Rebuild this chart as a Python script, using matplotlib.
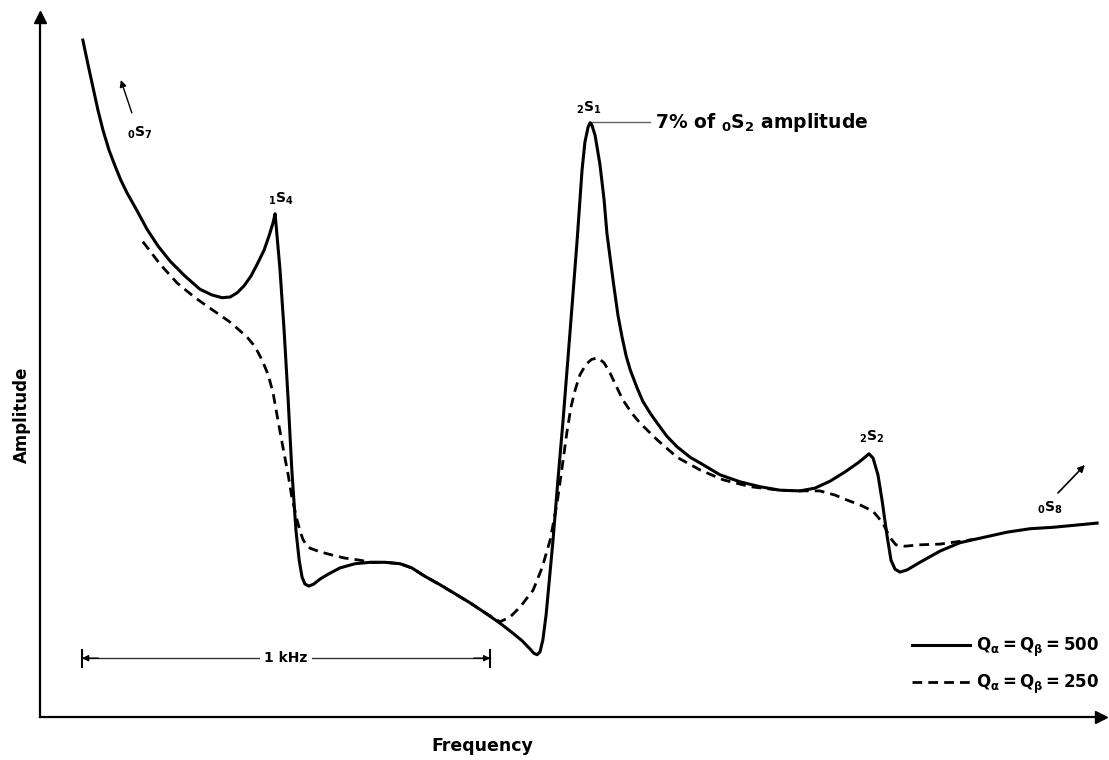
import matplotlib
matplotlib.use("Agg")
import matplotlib.pyplot as plt

plt.rcParams["font.family"] = ["DejaVu Sans"]
plt.rcParams["font.weight"] = "bold"
plt.rcParams["mathtext.fontset"] = "custom"
plt.rcParams["mathtext.rm"] = "DejaVu Sans:bold"
plt.rcParams["mathtext.it"] = "DejaVu Sans:bold"
plt.rcParams["mathtext.bf"] = "DejaVu Sans:bold"
plt.rcParams["mathtext.sf"] = "DejaVu Sans:bold"

# Frequency (Hz, relative to the left edge of the plot) and amplitude (arbitrary units)
freq_q500 = [105, 118, 130, 142, 154, 169, 184, 198, 213, 238, 262, 289, 319, 355,
             392, 421, 446, 466, 483, 500, 517, 534, 549, 561, 571, 576,
             588, 598, 608, 617, 627, 635, 642, 649, 659, 671, 686, 706, 735, 772,
             809, 845, 882, 911, 943, 980, 1017, 1054, 1090, 1127, 1156, 1181, 1201,
             1210, 1218, 1225, 1232, 1240, 1257, 1269, 1281, 1299, 1316, 1328, 1335,
             1343, 1348, 1352, 1360, 1372, 1382, 1389, 1404, 1416, 1426, 1436, 1446,
             1463, 1477, 1495, 1512, 1536, 1561, 1593, 1617, 1666, 1715, 1764, 1813,
             1862, 1899, 1936, 1972, 2004, 2021, 2031, 2041, 2053, 2063, 2075, 2085,
             2095, 2107, 2124, 2156, 2205, 2254, 2315, 2369, 2426, 2482, 2536, 2590]
amp_q500 = [96.7, 93.1, 89.9, 86.7, 83.9, 81.0, 78.7, 76.7, 74.9, 72.3, 69.7, 67.3,
            65.1, 63.0, 61.1, 60.3, 59.9, 60.0, 60.6, 61.6, 63.0, 64.9, 66.7, 68.7,
            70.6, 71.9,
            63.9, 55.3, 45.3, 35.3, 26.7, 22.4, 20.0, 19.0, 18.7, 19.0, 19.7, 20.4,
            21.3, 21.9, 22.1, 22.1, 21.9, 21.3, 20.1, 18.9, 17.6, 16.3, 14.9, 13.4,
            12.1, 10.9, 9.7, 9.1, 8.9, 9.3, 11.0, 14.6, 25.3, 33.9, 42.0, 55.3, 68.1,
            78.1, 82.1, 84.3, 84.9, 84.6, 83.1, 78.9, 73.9, 69.1, 62.4, 57.4, 54.3,
            51.6, 49.6, 47.0, 45.1, 43.4, 42.0, 40.1, 38.6, 37.1, 36.3, 34.6, 33.6,
            32.9, 32.4, 32.3, 32.7, 33.7, 35.0, 36.3, 37.1, 37.6, 37.0, 34.6, 31.0,
            26.0, 22.4, 21.1, 20.7, 21.0, 22.1, 23.7, 24.9, 25.7, 26.4, 26.9, 27.1,
            27.4, 27.7]

freq_q250 = [252, 294, 336, 380, 424, 466, 507, 527, 544, 559, 571, 583, 595, 608,
             617, 630, 637, 644, 652, 662, 686, 718, 747, 784, 809, 845, 882, 911,
             943, 980, 1017, 1054, 1090, 1127, 1152, 1176, 1208, 1230, 1250, 1267,
             1281, 1291, 1301, 1311, 1323, 1338, 1352, 1367, 1382, 1397, 1414, 1428,
             1450, 1470, 1512, 1561, 1617, 1673, 1740, 1813, 1862, 1911, 1948, 1977,
             2009, 2041, 2065, 2083, 2097, 2119, 2156, 2205, 2242, 2291]
amp_q250 = [67.9, 64.7, 62.0, 59.9, 58.1, 56.4, 54.3, 52.9, 51.0, 48.9, 46.3, 42.4,
            38.6, 34.6, 31.4, 28.1, 26.6, 25.4, 24.6, 24.1, 23.6, 23.1, 22.7, 22.4,
            22.1, 22.1, 21.9, 21.3, 20.1, 18.9, 17.6, 16.3, 14.9, 13.6, 14.3, 15.7,
            18.1, 21.3, 25.3, 30.6, 36.4, 40.7, 44.3, 46.7, 48.9, 50.4, 51.1, 51.3,
            50.6, 49.1, 47.0, 45.3, 43.4, 42.0, 39.6, 37.1, 35.3, 33.9, 32.9, 32.4,
            32.3, 32.3, 31.7, 31.0, 30.3, 29.4, 27.7, 25.6, 24.6, 24.4, 24.6, 24.7,
            25.0, 25.4]

series_labels = [r"$Q_\alpha = Q_\beta = 500$", r"$Q_\alpha = Q_\beta = 250$"]

# Mode labels: (text, frequency, amplitude)
mode_names = [r"${}_{1}S_{4}$", r"${}_{2}S_{1}$", r"${}_{2}S_{2}$"]
mode_freq = [590, 1345, 2038]
mode_amp = [74.1, 87.1, 40.0]

peak_note = r"7% of ${}_{0}S_{2}$ amplitude"
scale_span_hz = [103, 1103]
scale_text = "1 kHz"

fig = plt.figure(figsize=(11.09, 7.60), dpi=100)
ax = fig.add_axes([40 / 1109, 43 / 760, 1061.2 / 1109, 700 / 760])
ax.set_xlim(0, 2600)
ax.set_ylim(0, 100)

ax.plot(freq_q500, amp_q500, color="black", lw=2.2, solid_joinstyle="round",
        label=series_labels[0])
ax.plot(freq_q250, amp_q250, color="black", lw=2.0, dashes=(3.5, 2.2),
        label=series_labels[1])

for name, f, a in zip(mode_names, mode_freq, mode_amp):
    ax.text(f, a, name, ha="center", va="center", fontsize=10)

# annotation for the 2S1 peak
ax.plot([1352, 1494], [85.0, 85.0], color="black", lw=1.0, alpha=0.6)
ax.text(1507, 85.0, peak_note, ha="left", va="center", fontsize=13.5)

# off-scale neighbouring modes
ax.annotate("", xy=(198, 91.0), xytext=(225, 86.3),
            arrowprops=dict(arrowstyle="-|>", color="black", lw=1.0,
                            mutation_scale=10, shrinkA=0, shrinkB=0))
ax.text(245, 83.4, r"${}_{0}S_{7}$", ha="center", va="center", fontsize=10)
ax.annotate("", xy=(2560, 36.0), xytext=(2494, 32.0),
            arrowprops=dict(arrowstyle="-|>", color="black", lw=1.2,
                            mutation_scale=10, shrinkA=0, shrinkB=0))
ax.text(2474, 29.9, r"${}_{0}S_{8}$", ha="center", va="center", fontsize=10)

# 1 kHz scale bar
y_bar = 8.4
f0, f1 = scale_span_hz
ax.plot([f0, f1], [y_bar, y_bar], color="black", lw=1.0, alpha=0.8)
for fx in (f0, f1):
    ax.plot([fx, fx], [y_bar - 1.2, y_bar + 1.2], color="black", lw=1.5)
ax.annotate("", xy=(f0, y_bar), xytext=(f0 + 40, y_bar),
            arrowprops=dict(arrowstyle="-|>", color="black", lw=1.0,
                            mutation_scale=9, shrinkA=0, shrinkB=0))
ax.annotate("", xy=(f1, y_bar), xytext=(f1 - 40, y_bar),
            arrowprops=dict(arrowstyle="-|>", color="black", lw=1.0,
                            mutation_scale=9, shrinkA=0, shrinkB=0))
ax.text((f0 + f1) / 2, y_bar, scale_text, ha="center", va="center", fontsize=10,
        bbox=dict(facecolor="white", edgecolor="none", pad=3))

# axes with arrowheads, no ticks
for side in ("top", "right"):
    ax.spines[side].set_visible(False)
for side in ("left", "bottom"):
    ax.spines[side].set_linewidth(1.6)
ax.set_xticks([])
ax.set_yticks([])
ax.plot(0, 1, marker="^", color="black", markersize=8, transform=ax.transAxes,
        clip_on=False)
ax.plot(1, 0, marker=">", color="black", markersize=8, transform=ax.transAxes,
        clip_on=False)

ax.set_ylabel("Amplitude", fontsize=12, fontweight="bold")
ax.yaxis.set_label_coords(-0.017, 0.432)
ax.yaxis.label.set_verticalalignment("center")
ax.set_xlabel("Frequency", fontsize=12.5, fontweight="bold")
ax.xaxis.set_label_coords(0.4166, -0.041)
ax.xaxis.label.set_verticalalignment("center")

ax.legend(loc="center left", bbox_to_anchor=(0.8217, 0.0729), frameon=False,
          fontsize=12, handlelength=3.5, handletextpad=0.35, labelspacing=0.8,
          borderpad=0, borderaxespad=0)

fig.savefig("out.png", dpi=100)
